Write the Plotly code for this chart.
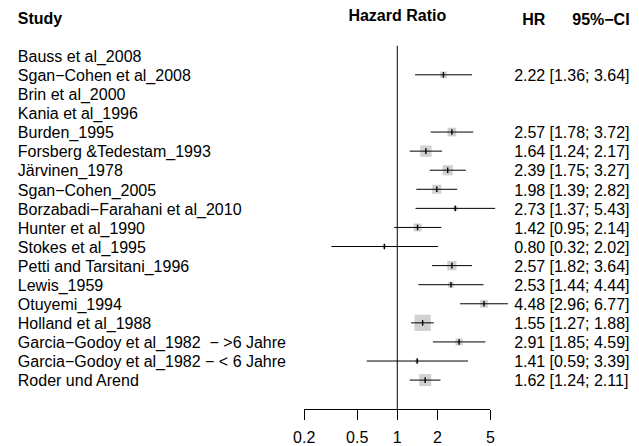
import math
import plotly.graph_objects as go

# ---- data -------------------------------------------------------------
studies = [
    "Bauss et al_2008",
    "Sgan−Cohen et al_2008",
    "Brin et al_2000",
    "Kania et al_1996",
    "Burden_1995",
    "Forsberg &Tedestam_1993",
    "Järvinen_1978",
    "Sgan−Cohen_2005",
    "Borzabadi−Farahani et al_2010",
    "Hunter et al_1990",
    "Stokes et al_1995",
    "Petti and Tarsitani_1996",
    "Lewis_1959",
    "Otuyemi_1994",
    "Holland et al_1988",
    "Garcia−Godoy et al_1982  − >6 Jahre",
    "Garcia−Godoy et al_1982 − < 6 Jahre",
    "Roder und Arend",
]
hr = [None, 2.22, None, None, 2.57, 1.64, 2.39, 1.98, 2.73, 1.42, 0.80,
      2.57, 2.53, 4.48, 1.55, 2.91, 1.41, 1.62]
ci_lower = [None, 1.36, None, None, 1.78, 1.24, 1.75, 1.39, 1.37, 0.95, 0.32,
            1.82, 1.44, 2.96, 1.27, 1.85, 0.59, 1.24]
ci_upper = [None, 3.64, None, None, 3.72, 2.17, 3.27, 2.82, 5.43, 2.14, 2.02,
            3.64, 4.44, 6.77, 1.88, 4.59, 3.39, 2.11]
tick_values = [0.2, 0.5, 1, 2, 5]
tick_labels = ["0.2", "0.5", "1", "2", "5"]

# ---- layout constants (pixels) -----------------------------------------
W, H = 639, 446
AX_LEFT_PX, AX_RIGHT_PX = 300.7, 491.7      # where 0.2 and 5 sit
AX_LINE_PX = 411.7                          # y of the horizontal axis line
ROW0_PX, ROW_STEP_PX = 56.1, 19.21          # first row centre and row pitch
REF_TOP_PX = 46.0
TEXT_DY_PX = 2.3                            # baseline nudge for row text
FONT = "Liberation Sans, Arial, Helvetica, sans-serif"
FS = 16
BOX_MAX_PX = 16.3
BOX_COLOR = "#BEBEBE"

ppd = (AX_RIGHT_PX - AX_LEFT_PX) / (math.log10(5) - math.log10(0.2))
x_range = [math.log10(0.2) - AX_LEFT_PX / ppd,
           math.log10(5) + (W - AX_RIGHT_PX) / ppd]


def row_of_px(py):
    return (py - ROW0_PX) / ROW_STEP_PX


def data_x(px):
    return 10 ** (x_range[0] + px / ppd)


def px_x(px):
    return px / W


def px_y(py):
    return 1 - py / H


y_range = [row_of_px(H), row_of_px(0)]
rows = list(range(len(studies)))
text_dy = TEXT_DY_PX / ROW_STEP_PX

# inverse-variance weights from the confidence intervals
idx = [i for i in rows if hr[i] is not None]
se = {i: (math.log(ci_upper[i]) - math.log(ci_lower[i])) / (2 * 1.959964) for i in idx}
w = {i: 1 / se[i] ** 2 for i in idx}
wmax = max(w.values())
box_size = [BOX_MAX_PX * math.sqrt(w[i] / wmax) for i in idx]

fig = go.Figure()

# reference line at HR = 1
fig.add_trace(go.Scatter(
    x=[1, 1], y=[row_of_px(REF_TOP_PX), row_of_px(AX_LINE_PX)],
    mode="lines", line=dict(color="black", width=1), hoverinfo="skip"))

# weight boxes
fig.add_trace(go.Scatter(
    x=[hr[i] for i in idx], y=[rows[i] for i in idx], mode="markers",
    marker=dict(symbol="square", size=box_size, color=BOX_COLOR,
                line=dict(width=0)),
    hoverinfo="skip"))

# confidence interval whiskers
cx, cy = [], []
for i in idx:
    cx += [ci_lower[i], ci_upper[i], None]
    cy += [rows[i], rows[i], None]
fig.add_trace(go.Scatter(x=cx, y=cy, mode="lines",
                         line=dict(color="black", width=1), hoverinfo="skip"))

# point estimate ticks
fig.add_trace(go.Scatter(
    x=[hr[i] for i in idx], y=[rows[i] for i in idx], mode="markers",
    marker=dict(symbol="line-ns", size=4, line=dict(color="black", width=1.4)),
    hoverinfo="skip"))

# invisible trace carrying the scale axis
fig.add_trace(go.Scatter(x=[0.2, 5], y=[0, 0], xaxis="x2", yaxis="y",
                         mode="markers", marker=dict(opacity=0),
                         hoverinfo="skip"))

txt = dict(family=FONT, size=FS, color="black")


def text_column(xs, ys, labels, position):
    fig.add_trace(go.Scatter(x=xs, y=ys, text=labels, mode="text",
                             textposition=position, textfont=txt,
                             hoverinfo="skip", cliponaxis=False))


# study names
text_column([data_x(7)] * len(studies), [r + text_dy for r in rows],
            studies, "middle right")
# estimate and interval columns
text_column([data_x(548)] * len(idx), [rows[i] + text_dy for i in idx],
            [f"{hr[i]:.2f}" for i in idx], "middle left")
text_column([data_x(552.3)] * len(idx), [rows[i] + text_dy for i in idx],
            [f"[{ci_lower[i]:.2f}; {ci_upper[i]:.2f}]" for i in idx],
            "middle right")

# column headers
text_column([data_x(7)], [row_of_px(20.3)], ["<b>Study</b>"], "middle right")
text_column([data_x(396.2)], [row_of_px(16.7)], ["<b>Hazard Ratio</b>"],
            "middle center")
text_column([data_x(548)], [row_of_px(21.0)], ["<b>HR</b>"], "middle left")
text_column([data_x(634.5)], [row_of_px(21.0)], ["<b>95%−CI</b>"],
            "middle left")

fig.update_layout(
    width=W, height=H,
    margin=dict(l=0, r=0, t=0, b=0),
    paper_bgcolor="white", plot_bgcolor="rgba(0,0,0,0)",
    showlegend=False,
    xaxis=dict(type="log", range=x_range, visible=False, fixedrange=True),
    yaxis=dict(range=y_range, visible=False, fixedrange=True),
    xaxis2=dict(type="log", range=[math.log10(0.2), math.log10(5)],
                domain=[px_x(AX_LEFT_PX), px_x(AX_RIGHT_PX)],
                anchor="free", position=px_y(AX_LINE_PX), side="bottom",
                showline=True, linecolor="black", linewidth=1,
                ticks="outside", ticklen=10, tickwidth=1, tickcolor="black",
                tickvals=tick_values, ticktext=tick_labels,
                ticklabelstandoff=4,
                tickfont=txt, showgrid=False, zeroline=False,
                fixedrange=True),
)

fig.write_html("out.html")
